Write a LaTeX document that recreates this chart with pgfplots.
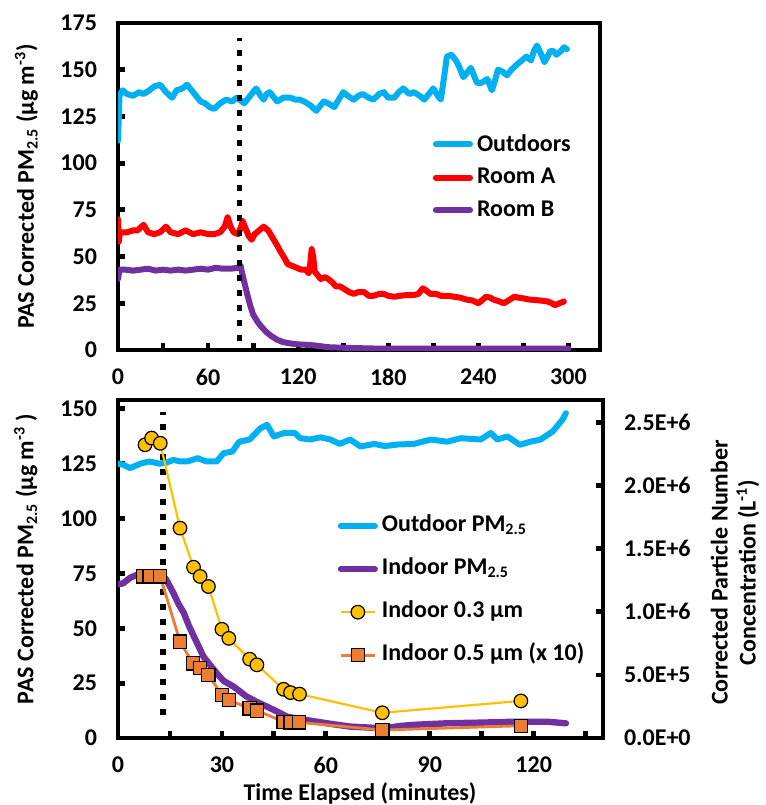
\documentclass[border=0pt]{standalone}
\usepackage{pgfplots}
\pgfplotsset{compat=1.18}
\usepackage{fontspec}
\setmainfont{Carlito}
\definecolor{cOut}{RGB}{0,176,240}
\definecolor{cRed}{RGB}{255,0,0}
\definecolor{cPur}{RGB}{112,48,160}
\definecolor{cGold}{RGB}{255,192,0}
\definecolor{cOra}{RGB}{237,125,49}
\newcommand\ff{\fontsize{12}{14}\selectfont\bfseries}
\pgfplotsset{
  myax/.style={
    scale only axis,
    font=\ff,
    /pgf/number format/assume math mode=true,
    tick label style={font=\ff},
    label style={font=\ff},
    legend style={font=\ff},
    axis line style={line width=2.4pt},
    tick style={line width=2.4pt,black},
    major tick length=3.5pt, minor tick length=3.5pt,
    tick align=inside,
    xticklabel shift=6pt,
    yticklabel shift=7pt,
  }
}
\begin{document}
\begin{tikzpicture}[x=1pt,y=1pt]
\useasboundingbox (0,0) rectangle (383,402.5);
% ---------------- top panel ----------------
\begin{axis}[myax,
  at={(59pt,227.5pt)}, anchor=south west,
  width=241pt, height=163.5pt,
  xmin=0, xmax=321, ymin=0, ymax=175,
  xtick={0,60,...,300}, minor xtick={30,90,...,270},
  ytick={0,25,...,175},
  xtick pos=bottom, ytick pos=left,
  ylabel={PAS Corrected PM\textsubscript{2.5} (µg m\textsuperscript{-3})},
  ylabel style={at={(axis description cs:-0.19,0.50)}, anchor=center},
  legend style={draw=none, fill=none, at={(axis description cs:0.64,0.685)}, anchor=north west,
     row sep=3pt, cells={anchor=west}},
  legend cell align=left,
]
\addplot[cOut, line width=3pt, line join=round, line cap=round] coordinates {
(0,112)(1,136)(3,139)(6,137)(10,136)(14,138)(17,137)(21,139)(24,141)(28,142)(32,138)(36,135)(39,139)(43,140)(46,142)(49,139)(52,136)(55,133)(58,132)(61,130)(64,129)(68,132)(72,134)(76,133)(79,135)(81,134)(84,132)(86,134)(89,137)(92,140)(95,136)(97,134)(99,137)(101,138)(104,135)(106,133)(110,135)(115,135)(118,134)(121,134)(124,133)(128,131)(132,128)(135,131)(137,133)(140,132)(144,130)(147,134)(150,138)(153,136)(157,134)(160,136)(163,137)(167,135)(170,134)(174,137)(177,138)(180,135)(184,135)(187,138)(190,140)(194,137)(197,138)(201,136)(204,134)(207,137)(210,140)(213,136)(215,134)(217,145)(219,157)(222,158)(225,155)(227,152)(230,146)(233,149)(235,151)(237,147)(239,143)(242,143)(246,145)(249,139)(251,144)(253,150)(256,149)(259,147)(262,150)(266,153)(269,155)(272,157)(275,155)(277,160)(279,163)(282,158)(284,154)(286,157)(288,160)(290,160)(292,158)(295,160)(297,162)(299,161)};
\addlegendentry{Outdoors}
\addplot[cRed, line width=3pt, line join=round, line cap=round] coordinates {
(0,70)(0.5,58)(1,62)(3,63)(6,63)(10,64)(13,64)(17,67)(20,63)(24,62)(28,63)(32,66)(35,63)(40,62)(45,64)(50,62)(55,63)(60,62)(64,62)(68,63)(71,66)(73,71)(75,66)(77,63)(80,62)(82,66)(83,69)(85,65)(87,61)(89,59)(91,62)(94,64)(97,66)(100,64)(103,60)(106,56)(108,53)(111,49)(113,46)(116,45)(119,44)(122,43)(125,43)(127,41)(128,46)(129,54)(130,50)(131,42)(133,40)(135,38)(138,39)(140,38)(143,36)(145,34)(148,34)(150,33)(154,31)(157,30)(160,31)(164,31)(167,29)(170,29)(174,30)(177,30)(180,29)(184,28.5)(188,29)(192,29.4)(197,29.4)(200,30)(203,33)(205,32)(208,30)(212,30)(215,29)(220,29)(224,28.5)(228,28)(232,27)(236,26.5)(240,25)(243,27)(245,28.5)(248,28)(250,27)(254,26)(257,25)(260,26.5)(264,28.5)(267,28)(270,27.6)(274,27)(277,26.8)(281,26.5)(286,26)(289,25)(291,24)(294,25)(297,26)};
\addlegendentry{Room A}
\addplot[cPur, line width=3pt, line join=round, line cap=round] coordinates {
(0,38)(1,43)(5,43)(10,42.5)(15,43)(20,43.5)(25,42.5)(30,43)(35,42.5)(40,43)(45,42.5)(50,43)(55,43.5)(60,43)(65,44)(70,43.5)(75,43.5)(80,44)(81.5,45.5)(83,40)(84.5,35)(86,30)(88,24)(90,19)(93,15)(96,12)(99,9.5)(102,7.5)(106,5.5)(110,4.2)(115,3.5)(120,3)(125,2.8)(130,2.5)(135,2)(140,1.5)(150,1.2)(160,1)(170,0.8)(180,0.7)(200,0.8)(220,0.7)(240,0.8)(260,0.7)(280,0.8)(300,0.8)};
\addlegendentry{Room B}
\addplot[black, line width=2.6pt, dash pattern=on 3pt off 4.5pt, forget plot] coordinates {(81,5)(81,167)};
\end{axis}
% ---------------- bottom panel, left axis ----------------
\begin{axis}[myax,
  at={(59pt,33.5pt)}, anchor=south west,
  width=242.5pt, height=169pt,
  xmin=0, xmax=140, ymin=0, ymax=154,
  xtick={0,30,...,120}, minor xtick={15,45,...,135},
  ytick={0,25,...,150},
  xtick pos=bottom, ytick pos=left,
  ylabel={PAS Corrected PM\textsubscript{2.5} (µg m\textsuperscript{-3} )},
  ylabel style={at={(axis description cs:-0.19,0.53)}, anchor=center},
  xlabel={Time Elapsed (minutes)},
  xlabel style={at={(axis description cs:0.499,-0.163)}, anchor=center},
]
\addplot[cOut, line width=3pt, line join=round, line cap=round] coordinates {
(0,125)(1.5,124.5)(3.5,123)(5,124)(6.5,125)(9,126)(12,125)(14,125.5)(16,126.7)(18,126)(20,126)(23,127.5)(25.5,126)(28.5,126)(30.5,129.8)(33,130.5)(35,135)(38,136)(41,141)(43,142.7)(45,137.4)(48,139)(51,139)(52.6,136.6)(55.5,136)(58.4,137)(61.3,136)(64,134)(67,136)(70,132.8)(74,134)(77,133)(80.6,133.7)(85.4,134)(90.3,136)(95,135)(99,136.6)(104.7,136)(107.6,139)(109.5,136)(112.4,137.4)(116,133.6)(119,135)(122,136)(125.5,139.7)(128.3,145)(129.3,148)};
\addplot[cPur, line width=3.2pt, line join=round, line cap=round] coordinates {
(0,70)(1.5,70.5)(3.5,73)(5.4,74.3)(8,75)(11,75)(13,74)(14,72)(16,66)(17.5,61)(19,57)(20.5,51)(22,46)(24.7,37)(28.5,29.5)(30.5,26)(33.4,23.4)(37,19)(40,16.5)(43,14.3)(46,12)(48.8,9.7)(53,8.5)(57.5,7.4)(62,6.3)(67,5.2)(72,4.8)(76.8,4.4)(81.6,5.5)(85.4,6)(95,6.7)(104.7,7)(114.4,7.4)(124,7.4)(129.3,6.7)};
\addplot[black, line width=2.6pt, dash pattern=on 3pt off 4.5pt] coordinates {(13,10.5)(13,148.6)};
\end{axis}
% ---------------- bottom panel, right axis ----------------
\begin{axis}[myax,
  at={(59pt,33.5pt)}, anchor=south west,
  width=242.5pt, height=169pt,
  xmin=0, xmax=140, ymin=0, ymax=2.68e6,
  axis x line=none, axis y line*=right,
  ytick={0,500000,1000000,1500000,2000000,2500000},
  yticklabels={0.0E+0,5.0E+5,1.0E+6,1.5E+6,2.0E+6,2.5E+6},
  yticklabel style={anchor=west},
  scaled y ticks=false,
  ylabel={Corrected Particle Number\\Concentration (L\textsuperscript{-1})},
  ylabel style={at={(axis description cs:1.272,0.49)}, anchor=center, align=center},
  legend style={draw=none, fill=none, at={(axis description cs:0.44,0.69)}, anchor=north west,
     row sep=4.5pt, cells={anchor=west},
     nodes={text height=9pt, text depth=4pt}},
  legend cell align=left,
]
\addlegendimage{cOut, line width=3pt, line cap=round}
\addlegendentry{Outdoor PM\textsubscript{2.5}}
\addlegendimage{cPur, line width=3pt, line cap=round}
\addlegendentry{Indoor PM\textsubscript{2.5}}
\addplot[cGold, line width=1.1pt, mark=*, mark size=3.4pt, mark options={fill=cGold, draw=black, line width=0.6pt}] coordinates {
(7.8,2.325e6)(9.7,2.378e6)(12.2,2.337e6)(17.9,1.664e6)(21.8,1.354e6)(23.7,1.281e6)(26.1,1.201e6)(30,8.62e5)(32,7.90e5)(38,6.25e5)(40.1,5.80e5)(47.8,3.86e5)(49.8,3.60e5)(52.4,3.48e5)(76.3,2.0e5)(116.3,2.94e5)};
\addlegendentry{Indoor 0.3 µm}
\addplot[cOra, line width=1.4pt, mark=square*, mark size=3.3pt, mark options={fill=cOra, draw=black, line width=0.6pt}] coordinates {
(7.3,1.281e6)(9.1,1.281e6)(12.2,1.281e6)(17.9,7.64e5)(21.6,5.92e5)(23.7,5.53e5)(26.1,5.0e5)(30,3.41e5)(32,3.01e5)(38,2.35e5)(40.1,2.18e5)(47.8,1.29e5)(49.8,1.24e5)(52.2,1.24e5)(76.3,6.3e4)(116.3,9.7e4)};
\addlegendentry{Indoor 0.5 µm (x 10)}
\end{axis}
\end{tikzpicture}
\end{document}
